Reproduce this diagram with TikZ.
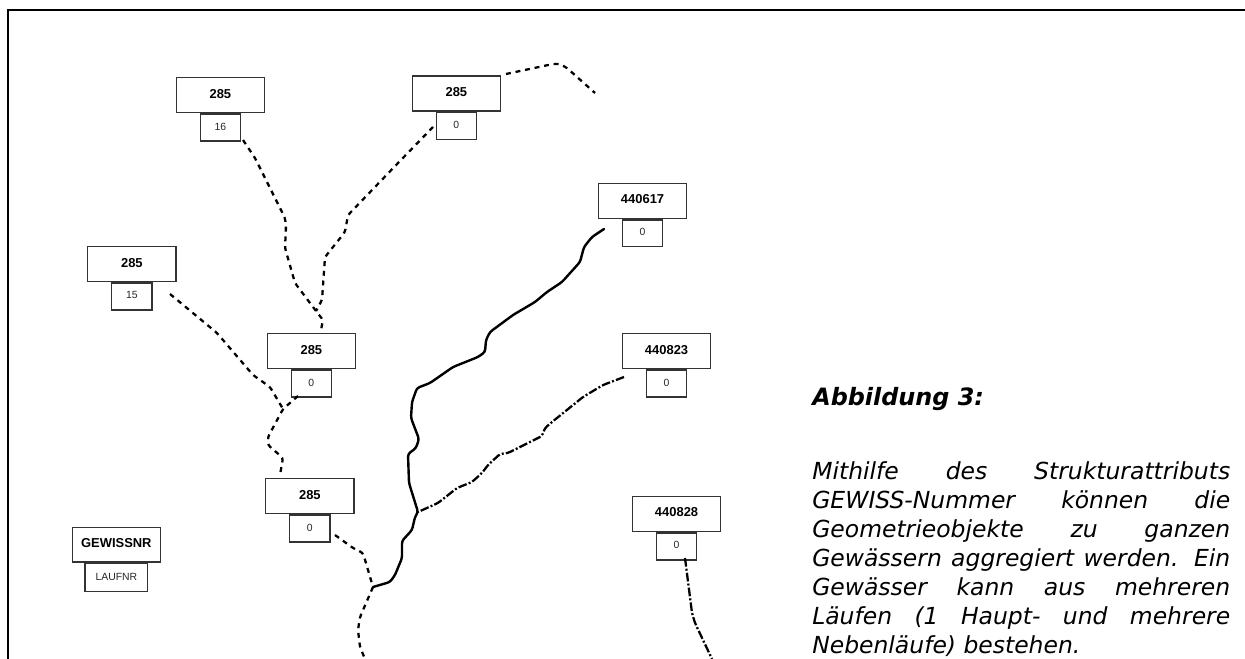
\documentclass[tikz,border=0pt]{standalone}
\usepackage{fontspec}
\setmainfont{Liberation Sans}
\newfontfamily\capfont{DejaVu Sans}
\begin{document}
\begin{tikzpicture}[x=0.75pt,y=-0.75pt,
  upbox/.style={draw=black!80,line width=1.1pt,minimum width=66.2pt,minimum height=26.2pt,inner sep=0pt,anchor=north west,text depth=2.4pt,font=\fontsize{9.7}{11}\selectfont\bfseries,text=black},
  lowbox/.style={draw=black!80,line width=1.1pt,minimum width=30.2pt,minimum height=20.2pt,inner sep=0pt,anchor=north,text depth=1.8pt,font=\fontsize{7.8}{9}\selectfont,text=black!85},
  frame/.style={line width=1.6pt,black},
  dashriver/.style={line width=1.7pt,black,dash pattern=on 3.7pt off 3.6pt,rounded corners=2pt},
  dotriver/.style={line width=1.7pt,black,dash pattern=on 6.5pt off 1.6pt on 1.5pt off 1.6pt,rounded corners=2pt},
  solidriver/.style={line width=1.8pt,black,rounded corners=2pt,line cap=round}]
\useasboundingbox (0,0) rectangle (1245,659);
\coordinate (fa) at (8,659); \coordinate (fb) at (8,10); \coordinate (fc) at (1245,10);
\draw[frame] (fa) -- (fb) -- (fc);
% boxes
\node[upbox] (a) at (175.5,77) {285};
\node[lowbox] (as) at (a.south) {16};
\node[upbox] (b) at (411.5,75.5) {285};
\node[lowbox] (bs) at (b.south) {0};
\node[upbox] (c) at (87,246) {285};
\node[lowbox] (cs) at (c.south) {15};
\node[upbox] (d) at (266.5,333) {285};
\node[lowbox] (ds) at (d.south) {0};
\node[upbox] (e) at (265,478) {285};
\node[lowbox] (es) at (e.south) {0};
\node[upbox] (f) at (71.5,526.5) {GEWISSNR};
\node[lowbox,minimum width=47pt,minimum height=21pt] (fs) at (f.south) {LAUFNR};
\node[upbox] (g) at (597.7,182.7) {440617};
\node[lowbox] (gs) at (g.south) {0};
\node[upbox] (h) at (621.7,333) {440823};
\node[lowbox] (hs) at (h.south) {0};
\node[upbox] (i) at (631.7,495.7) {440828};
\node[lowbox] (is) at (i.south) {0};
% junctions and free ends
\coordinate (j1) at (316,311);
\coordinate (j2) at (283,409);
\coordinate (j3) at (373,587);
\coordinate (j4) at (418,512);
\coordinate (s1) at (243,140);
\coordinate (s2) at (433,127);
\coordinate (s3) at (506,74);
\coordinate (s4) at (595,93);
\coordinate (s5) at (170,294);
\coordinate (s6) at (298,396);
\coordinate (s7) at (321,330);
\coordinate (s8) at (280,475);
\coordinate (s9) at (335,535);
\coordinate (s10) at (365,659);
\coordinate (s11) at (604,229);
\coordinate (s12) at (624,377);
\coordinate (s13) at (685,558);
\coordinate (s14) at (712,659);
% rivers
\draw[dashriver] (s1) -- (255,158) -- (285,218) -- (286,227) -- (285,248) -- (295,283) -- (j1) -- (323,320) -- (s7);
\draw[dashriver] (s2) -- (400,161) -- (348,215) -- (345,232) -- (325,257) -- (322,300) -- (j1);
\draw[dashriver] (s3) -- (553,64) -- (560,64) -- (567,68) -- (s4);
\draw[dashriver] (s5) -- (217,333) -- (253,375) -- (270,387) -- (j2);
\draw[dashriver] (s6) -- (j2) -- (268,437) -- (268,445) -- (283,458) -- (s8);
\draw[dashriver] (s9) -- (353,548) -- (363,553) -- (j3);
\draw[dashriver] (j3) -- (360,617) -- (358,630) -- (360,647) -- (s10);
\draw[solidriver] (s11) -- (592,237) -- (584,247) -- (580,262) -- (562,282) -- (547,292) -- (535,302) -- (513,315) -- (490,332) -- (486,340) -- (485,352) -- (478,357) -- (453,367) -- (430,383) -- (417,388) -- (412,402) -- (411,418) -- (419,439) -- (416,448) -- (408,454) -- (409,483) -- (j4) -- (415,517) -- (412,530) -- (402,541) -- (402,558) -- (395,575) -- (390,582) -- (j3);
\draw[dotriver] (s12) -- (603,385) -- (583,397) -- (552,422) -- (545,428) -- (542,436) -- (508,453) -- (500,454) -- (488,465) -- (482,473) -- (472,482) -- (457,488) -- (438,503) -- (j4);
\draw[dotriver] (s13) -- (692,613) -- (695,623) -- (s14);
% caption
\node[anchor=north west,inner sep=0pt,text=black,font=\capfont\fontsize{17.9}{21}\selectfont\bfseries\itshape] (t1) at (812,387) {Abbildung 3:};
\node[anchor=north west,inner sep=0pt,text width=313.5pt,align=justify,text=black,font=\capfont\fontsize{17.6}{21.8}\selectfont\itshape] (t2) at (812,461) {\hyphenchar\font=-1\emergencystretch=5pt Mithilfe des Strukturattributs\linebreak GEWISS-Nummer können die\linebreak Geometrieobjekte zu ganzen\linebreak Gewässern aggregiert werden. Ein\linebreak Gewässer kann aus mehreren\linebreak Läufen (1 Haupt- und mehrere\linebreak Nebenläufe) bestehen.};
\end{tikzpicture}
\end{document}
